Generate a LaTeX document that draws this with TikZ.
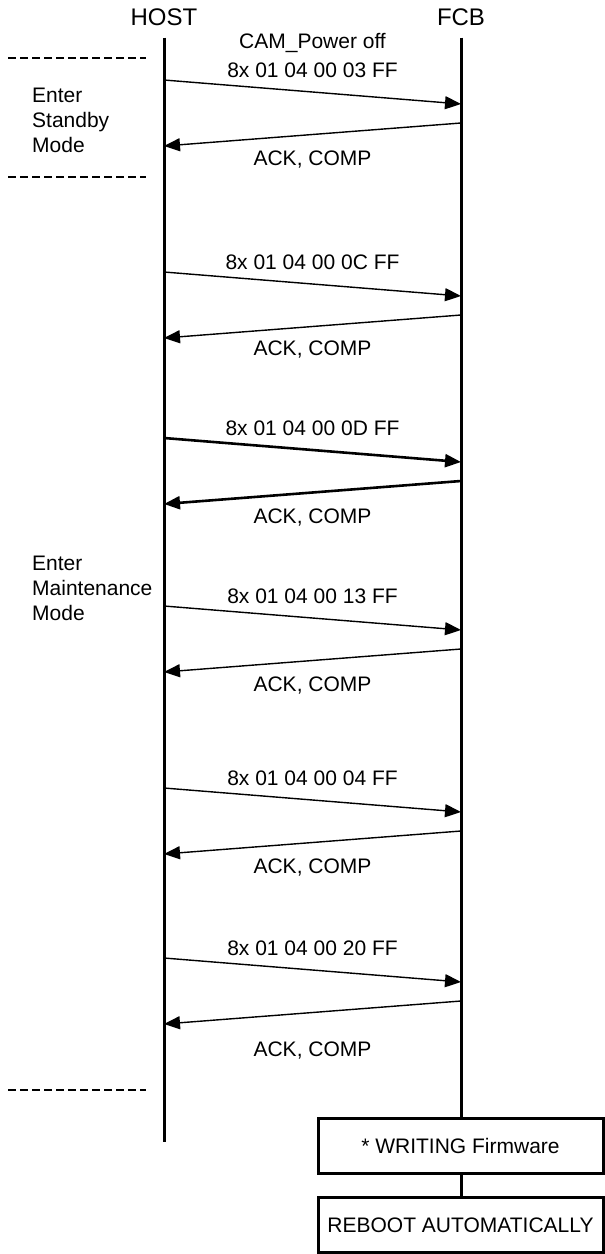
\documentclass[tikz,border=0pt]{standalone}
\usepackage{fontspec}
\setmainfont{Liberation Sans}
\usetikzlibrary{arrows.meta,positioning}

\begin{document}
\begin{tikzpicture}[x=1pt,y=-1pt,
  every node/.style={font=\fontsize{21}{25}\selectfont, inner sep=0pt},
  actor/.style={font=\fontsize{24}{28}\selectfont},
  life/.style={line width=3pt},
  msg/.style={line width=1.4pt, -{Triangle[length=16pt,width=13pt]}},
  boldmsg/.style={msg, line width=2.6pt},
  sep/.style={line width=2pt, dash pattern=on 8pt off 4pt},
  stage/.style={draw, line width=3pt, minimum width=285pt, minimum height=55pt},
  note/.style={align=left, anchor=west}]
  \useasboundingbox (0,0) rectangle (605,1254);

  \node [actor] (host) at (164,17) {HOST};
  \node [actor] (fcb)  at (461,17) {FCB};

  \node [stage] (write) at (460.5,1146) {* WRITING Firmware};
  \node [stage] (reboot) [below=21pt of write] {REBOOT AUTOMATICALLY};

  \coordinate (hostend) at (164,1142);
  \draw [life] (host.south) ++(0,12) -- (hostend);
  \draw [life] (fcb.south) ++(0,12) -- (write.north -| fcb);
  \draw [life] (write.south -| fcb) -- (reboot.north -| fcb);

  % mode separators
  \draw [sep] (8,58) -- (146,58);
  \draw [sep] (8,177) -- (146,177);
  \draw [sep] (8,1090) -- (146,1090);

  \node [note] (standby) at (32,120) {Enter\\Standby\\Mode};
  \node [note] (maint)   at (32,588) {Enter\\Maintenance\\Mode};

  \node (power) at (312.5,43) {CAM\_Power off};

  \foreach \y/\code/\ack/\kind [count=\i] in
    {80/03/160/msg, 272/0C/350/msg, 438/0D/518/boldmsg,
     606/13/686/msg, 788/04/867/msg, 958/20/1050/msg} {
    \coordinate (h\i)  at (164,\y);
    \coordinate (f\i)  at (461,\y+24);
    \coordinate (fb\i) at (461,\y+43);
    \coordinate (hb\i) at (164,\y+66);
    \node (cmd\i) at (312.5,\y-10) {8x 01 04 00 \code\ FF};
    \node (ack\i) at (312.5,\ack) {ACK, COMP};
    \draw [\kind] (h\i) -- (f\i);
    \draw [\kind] (fb\i) -- (hb\i);
  }
\end{tikzpicture}
\end{document}
